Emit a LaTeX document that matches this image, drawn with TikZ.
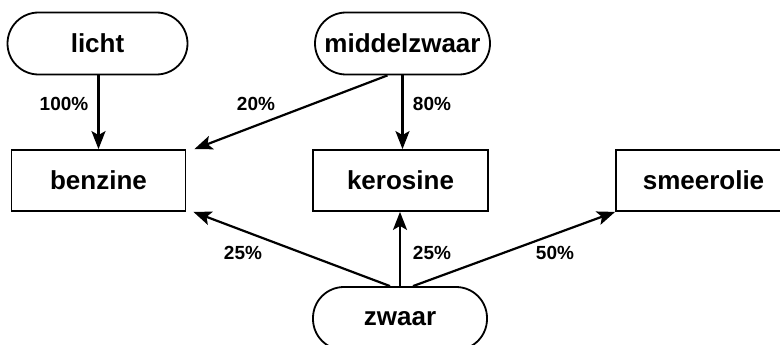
\documentclass[tikz,border=0pt]{standalone}
\usepackage{fontspec}
\setmainfont{Liberation Sans}
\usetikzlibrary{arrows.meta,calc}

\begin{document}
\begin{tikzpicture}[x=1pt,y=1pt,
	fraction/.style={draw,line width=1.8pt,rounded corners=31pt,minimum width=180pt,minimum height=62pt,inner xsep=2pt,font=\bfseries\fontsize{26}{32}\selectfont},
	product/.style={draw,line width=1.8pt,minimum width=174pt,minimum height=61pt,font=\bfseries\fontsize{26}{32}\selectfont},
	share/.style={font=\bfseries\fontsize{19}{23}\selectfont},
	flow/.style={line width=2.2pt,-{Stealth[length=18pt,width=14pt,inset=4pt]}}]
\useasboundingbox (0,0) rectangle (780,-345);
\node[fraction] (licht) at (97.5,-43.5) {licht};
\node[fraction,minimum width=175pt] (middelzwaar) at (402.5,-43.5) {middelzwaar};
\node[fraction,minimum width=174pt,minimum height=63pt] (zwaar) at (400,-318.5) {zwaar};
\node[product] (benzine) at (98.5,-180.5) {benzine};
\node[product,minimum width=175pt] (kerosine) at (400.5,-180.5) {kerosine};
\node[product,minimum width=175pt] (smeerolie) at (703.5,-180.5) {smeerolie};
\draw[flow] (licht.south -| benzine.north) -- (benzine.north);
\draw[flow] ([xshift=-15pt]middelzwaar.south) -- ([xshift=8pt]benzine.north east);
\draw[flow] (middelzwaar.south) -- (middelzwaar.south |- kerosine.north);
\draw[flow] ([xshift=-10pt]zwaar.north) -- ([xshift=7pt]benzine.south east);
\draw[flow] (zwaar.north) -- (zwaar.north |- kerosine.south);
\draw[flow] ([xshift=13pt]zwaar.north) -- (smeerolie.south west);
\node[share] (l100) at (64,-104) {100\%};
\node[share] (m20) at (256,-104) {20\%};
\node[share] (m80) at (432,-104) {80\%};
\node[share] (z25b) at (243,-253) {25\%};
\node[share] (z25k) at (432,-253) {25\%};
\node[share] (z50) at (555,-253) {50\%};
\end{tikzpicture}
\end{document}
